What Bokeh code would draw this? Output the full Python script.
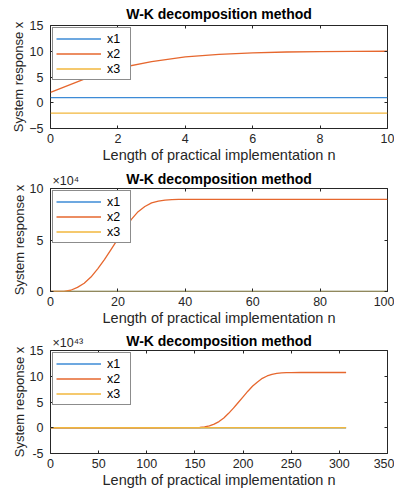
from bokeh.plotting import figure
from bokeh.layouts import column
from bokeh.models import (FixedTicker, LinearAxis, Range1d, Label, Legend, LegendItem,
                          CustomJSTickFormatter)
from bokeh.embed import file_html
from bokeh.resources import INLINE

# ---------------- data ----------------
TITLE = "W-K decomposition method"
XLABEL = "Length of practical implementation n"
YLABEL = "System response x"
SERIES = ["x1", "x2", "x3"]
COLORS = ["#3d8bd6", "#e6672e", "#f2b73c"]

# panel 1
n1 = [0, 1, 2, 3, 4, 5, 6, 7, 8, 9, 10]
p1_x1 = [1, 1, 1, 1, 1, 1, 1, 1, 1, 1, 1]
p1_x2 = [2.0, 4.6, 6.7, 8.0, 8.9, 9.4, 9.7, 9.85, 9.93, 9.97, 10.0]
p1_x3 = [-2, -2, -2, -2, -2, -2, -2, -2, -2, -2, -2]
p1_xticks = [0, 2, 4, 6, 8, 10]
p1_yticks = [-5, 0, 5, 10, 15]

# panel 2
n2 = [0, 2, 4, 6, 8, 10, 12, 14, 16, 18, 20, 22, 24, 26, 28, 30, 32, 34, 36, 38, 40,
      50, 60, 70, 80, 90, 100]
p2_x2 = [0, 5, 200, 1200, 4000, 8000, 14000, 22000, 31000, 41000, 51000, 60500, 70000,
         77500, 82500, 86000, 87800, 88700, 89200, 89400, 89500,
         89500, 89500, 89500, 89500, 89500, 89500]
p2_n13 = [0, 100]
p2_x1 = [1, 1]
p2_x3 = [-2, -2]
p2_xticks = [0, 20, 40, 60, 80, 100]
p2_yticks = [0, 50000, 100000]
p2_exp = "×10⁴"

# panel 3
n3 = [0, 50, 100, 140, 150, 155, 160, 165, 170, 175, 180, 185, 190, 195, 200, 205, 210,
      215, 220, 225, 230, 235, 240, 245, 250, 260, 280, 307]
p3_x2 = [0, 0, 0, 0.005e43, 0.02e43, 0.05e43, 0.15e43, 0.35e43, 0.7e43, 1.2e43, 1.9e43,
         2.8e43, 3.8e43, 4.9e43, 6.0e43, 7.1e43, 8.1e43, 8.9e43, 9.6e43, 10.05e43,
         10.35e43, 10.55e43, 10.65e43, 10.7e43, 10.72e43, 10.73e43, 10.73e43, 10.73e43]
p3_n13 = [0, 307]
p3_x1 = [1, 1]
p3_x3 = [-2, -2]
p3_xticks = [0, 50, 100, 150, 200, 250, 300, 350]
p3_yticks = [-5e43, 0, 5e43, 10e43, 15e43]
p3_exp = "×10⁴³"

FONT = "Liberation Sans"
AX = "#262626"


def make_panel(height, top, bottom, xr, yr, xticks, yticks, xs, ys, scale=None, exp=None):
    p = figure(width=394, height=height, output_backend="svg", toolbar_location=None,
               x_range=Range1d(*xr), y_range=Range1d(*yr),
               min_border_left=50, min_border_right=7,
               min_border_top=top, min_border_bottom=bottom,
               background_fill_color="white", border_fill_color="white")
    p.title.text = TITLE
    p.title.text_font = FONT
    p.title.text_font_size = "14px"
    p.title.text_font_style = "bold"
    p.title.align = "center"
    p.title.text_color = "#000000"
    p.title.standoff = 7 if exp is None else -24
    p.title.offset = 0
    p.grid.visible = False
    p.outline_line_color = AX
    p.outline_line_width = 1

    for ax, ticks in ((p.xaxis[0], xticks), (p.yaxis[0], yticks)):
        ax.ticker = FixedTicker(ticks=ticks)
        ax.axis_line_color = None
        ax.major_tick_in = 3
        ax.major_tick_out = 0
        ax.major_tick_line_color = AX
        ax.minor_tick_line_color = None
        ax.major_label_text_font = FONT
        ax.major_label_text_font_size = "12.5px"
        ax.major_label_text_color = AX
        ax.axis_label_text_font = FONT
        ax.axis_label_text_font_style = "normal"
        ax.axis_label_text_color = AX
    p.xaxis[0].axis_label = XLABEL
    p.xaxis[0].axis_label_text_font_size = "14.5px"
    p.xaxis[0].major_label_standoff = 5
    p.xaxis[0].axis_label_standoff = 1
    p.yaxis[0].axis_label = YLABEL
    p.yaxis[0].axis_label_text_font_size = "13px"
    p.yaxis[0].major_label_standoff = 7
    p.yaxis[0].axis_label_standoff = 0
    if scale is not None:
        p.yaxis[0].formatter = CustomJSTickFormatter(
            code="return Math.round(tick / %s).toString();" % scale)

    for loc, ticks in (("above", xticks), ("right", yticks)):
        a = LinearAxis(ticker=FixedTicker(ticks=ticks),
                       formatter=CustomJSTickFormatter(code="return '';"),
                       axis_line_color=None, major_tick_in=3, major_tick_out=0,
                       major_tick_line_color=AX, minor_tick_line_color=None,
                       major_label_text_font_size="0px", major_label_standoff=0)
        p.add_layout(a, loc)

    items = []
    for name, color, (x, y) in zip(SERIES, COLORS, zip(xs, ys)):
        r = p.line(x, y, line_color=color, line_width=1.3)
        items.append(LegendItem(label=name, renderers=[r]))
    leg = Legend(items=items, location="top_left", margin=2, padding=3, spacing=0,
                 glyph_width=45, glyph_height=15, label_height=15, label_standoff=6,
                 label_text_font=FONT, label_text_font_size="12.5px", label_text_color="#000000",
                 border_line_color="#1a1a1a", border_line_width=1.5,
                 background_fill_color="white", background_fill_alpha=1)
    p.add_layout(leg, "center")

    if exp is not None:
        p.add_layout(Label(x=xr[0], y=yr[1], x_offset=2, y_offset=1, text=exp,
                           text_font=FONT, text_font_size="12.5px", text_color=AX,
                           text_baseline="bottom"), "above")
    return p


p1 = make_panel(165, 25, 37, (0, 10), (-5, 15), p1_xticks, p1_yticks,
                [n1, n1, n1], [p1_x1, p1_x2, p1_x3])
p2 = make_panel(164, 23, 38, (0, 100), (0, 100000), p2_xticks, p2_yticks,
                [p2_n13, n2, p2_n13], [p2_x1, p2_x2, p2_x3], scale="1e4", exp=p2_exp)
p3 = make_panel(164, 21, 40, (0, 350), (-5e43, 15e43), p3_xticks, p3_yticks,
                [p3_n13, n3, p3_n13], [p3_x1, p3_x2, p3_x3], scale="1e43", exp=p3_exp)

layout = column(p1, p2, p3)
open("out.html", "w").write(file_html(layout, INLINE))
